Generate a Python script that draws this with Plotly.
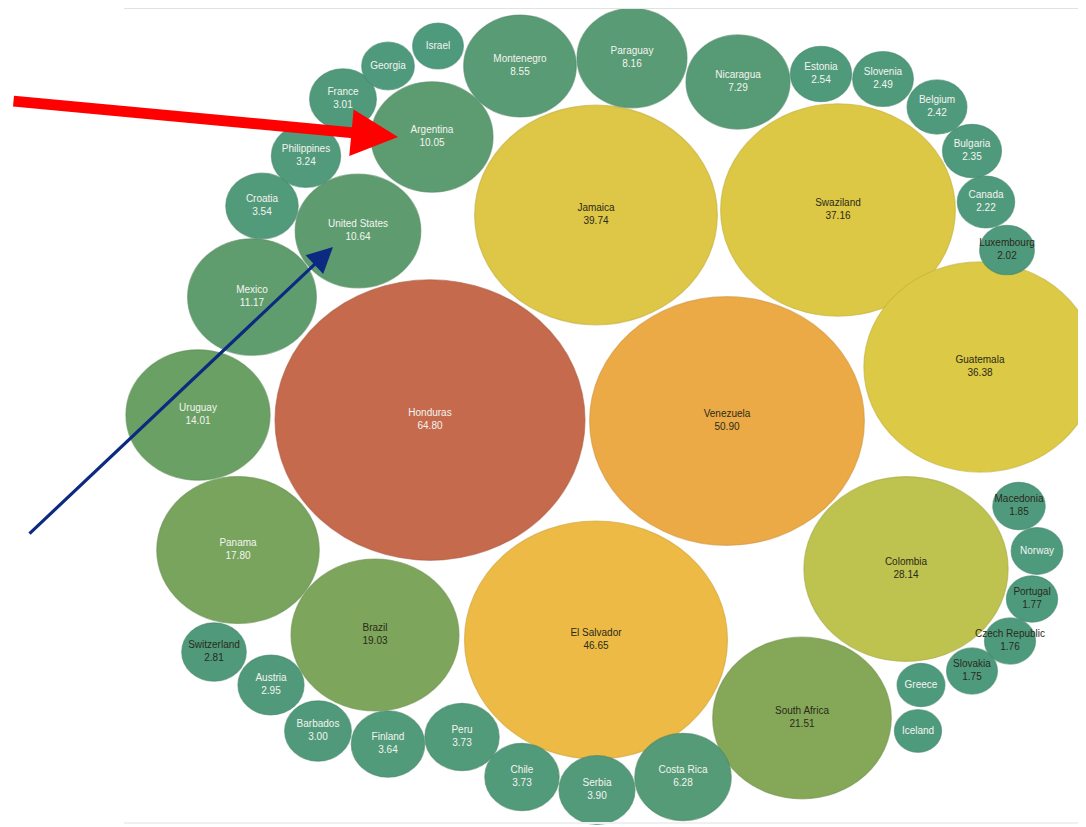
import plotly.graph_objects as go

# ---- data ----
countries = ["Honduras", "Venezuela", "El Salvador", "Jamaica", "Swaziland", "Guatemala",
             "Colombia", "South Africa", "Brazil", "Panama", "Uruguay", "Mexico",
             "United States", "Argentina", "Montenegro", "Paraguay", "Nicaragua", "Costa Rica",
             "Serbia", "Chile", "Peru", "Finland", "Croatia", "Philippines", "France",
             "Barbados", "Austria", "Switzerland", "Estonia", "Slovenia", "Belgium",
             "Bulgaria", "Canada", "Luxembourg", "Georgia", "Macedonia", "Norway",
             "Portugal", "Czech Republic", "Slovakia", "Israel", "Greece", "Iceland"]
values = [64.80, 50.90, 46.65, 39.74, 37.16, 36.38,
          28.14, 21.51, 19.03, 17.80, 14.01, 11.17,
          10.64, 10.05, 8.55, 8.16, 7.29, 6.28,
          3.90, 3.73, 3.73, 3.64, 3.54, 3.24, 3.01,
          3.00, 2.95, 2.81, 2.54, 2.49, 2.42,
          2.35, 2.22, 2.02, 1.87, 1.85, 1.80,
          1.77, 1.76, 1.75, 1.74, 1.55, 1.50]
show_value = [c not in ("Georgia", "Norway", "Israel", "Greece", "Iceland") for c in countries]

# ---- layout (packed-bubble centres, pixel space) ----
center_x = [430, 727, 596, 596, 838, 980,
            906, 802, 375, 238, 198, 252,
            358, 432, 520, 632, 738, 683,
            597, 522, 462, 388, 262, 306, 343,
            318, 271, 214, 821, 883, 937,
            972, 986, 1007, 388, 1019, 1037,
            1032, 1010, 972, 438, 921, 918]
center_y = [420, 421, 640, 215, 210, 367,
            569, 718, 635, 550, 415, 297,
            231, 137, 66, 58, 82, 777,
            790, 777, 737, 744, 206, 156, 99,
            731, 685, 652, 74, 79, 107,
            151, 202, 250, 66, 506, 551,
            599, 641, 671, 46, 685, 731]

# ---- style ----
color_stops = [(1.5, (78, 154, 125)), (8, (88, 155, 117)), (10.5, (94, 156, 112)),
               (14, (106, 160, 99)), (19, (125, 165, 91)), (22, (134, 168, 88)),
               (28, (189, 194, 78)), (36.5, (220, 201, 69)), (40, (222, 198, 70)),
               (47, (238, 186, 69)), (51, (236, 170, 70)), (65, (196, 105, 76))]
dark_text = {"Venezuela", "El Salvador", "Jamaica", "Swaziland", "Guatemala", "Colombia",
             "South Africa", "Brazil", "Luxembourg", "Macedonia", "Portugal",
             "Czech Republic", "Slovakia", "Switzerland"}
PX_PER_SQRT = 155 / 64.80 ** 0.5
Y_ASPECT = 0.905
PAGE_OFFSET = 8  # default body margin of the html page


def color_for(v):
    if v <= color_stops[0][0]:
        c = color_stops[0][1]
    elif v >= color_stops[-1][0]:
        c = color_stops[-1][1]
    else:
        for (v0, c0), (v1, c1) in zip(color_stops[:-1], color_stops[1:]):
            if v0 <= v <= v1:
                t = (v - v0) / (v1 - v0)
                c = tuple(round(a + (b - a) * t) for a, b in zip(c0, c1))
                break
    return c


fig = go.Figure()
shapes = []
for name, v, cx, cy in zip(countries, values, center_x, center_y):
    r = PX_PER_SQRT * v ** 0.5
    rgb = color_for(v)
    edge = tuple(max(0, int(k * 0.88)) for k in rgb)
    shapes.append(dict(type="circle", xref="x", yref="y",
                       x0=cx - r, x1=cx + r, y0=cy - r * Y_ASPECT, y1=cy + r * Y_ASPECT,
                       fillcolor="rgb(%d,%d,%d)" % rgb,
                       line=dict(color="rgba(%d,%d,%d,0.6)" % edge, width=1.2),
                       layer="below"))

labels = [f"{c}<br>{v:.2f}" if s else c for c, v, s in zip(countries, values, show_value)]
txt_colors = ["#2a2a1a" if c in dark_text else "#f4f4f0" for c in countries]
fig.add_trace(go.Scatter(x=center_x, y=center_y, mode="text", text=labels,
                         textfont=dict(family="Arial, Liberation Sans", size=10, color=txt_colors),
                         hoverinfo="skip", showlegend=False))

# frame lines
shapes.append(dict(type="line", xref="x", yref="y", x0=124, x1=1086, y0=8, y1=8,
                   line=dict(color="#e2e2e2", width=2)))
shapes.append(dict(type="line", xref="x", yref="y", x0=124, x1=1086, y0=823, y1=823,
                   line=dict(color="#f0f0f0", width=2)))

annotations = [
    dict(x=398, y=137, ax=12, ay=101, xref="x", yref="y", axref="x", ayref="y",
         text="", showarrow=True, arrowhead=2, arrowsize=0.85, arrowwidth=11,
         arrowcolor="#ff0000", standoff=0),
    dict(x=333, y=247, ax=28, ay=535, xref="x", yref="y", axref="x", ayref="y",
         text="", showarrow=True, arrowhead=2, arrowsize=1.6, arrowwidth=3.2,
         arrowcolor="#0c2a80", standoff=0),
]

fig.update_layout(
    width=1086 - PAGE_OFFSET, height=827 - PAGE_OFFSET,
    margin=dict(l=0, r=0, t=0, b=0),
    paper_bgcolor="white", plot_bgcolor="white",
    xaxis=dict(range=[PAGE_OFFSET, 1086], visible=False, fixedrange=True),
    yaxis=dict(range=[827, PAGE_OFFSET], visible=False, fixedrange=True),
    shapes=shapes, annotations=annotations,
)

fig.write_html("out.html")
